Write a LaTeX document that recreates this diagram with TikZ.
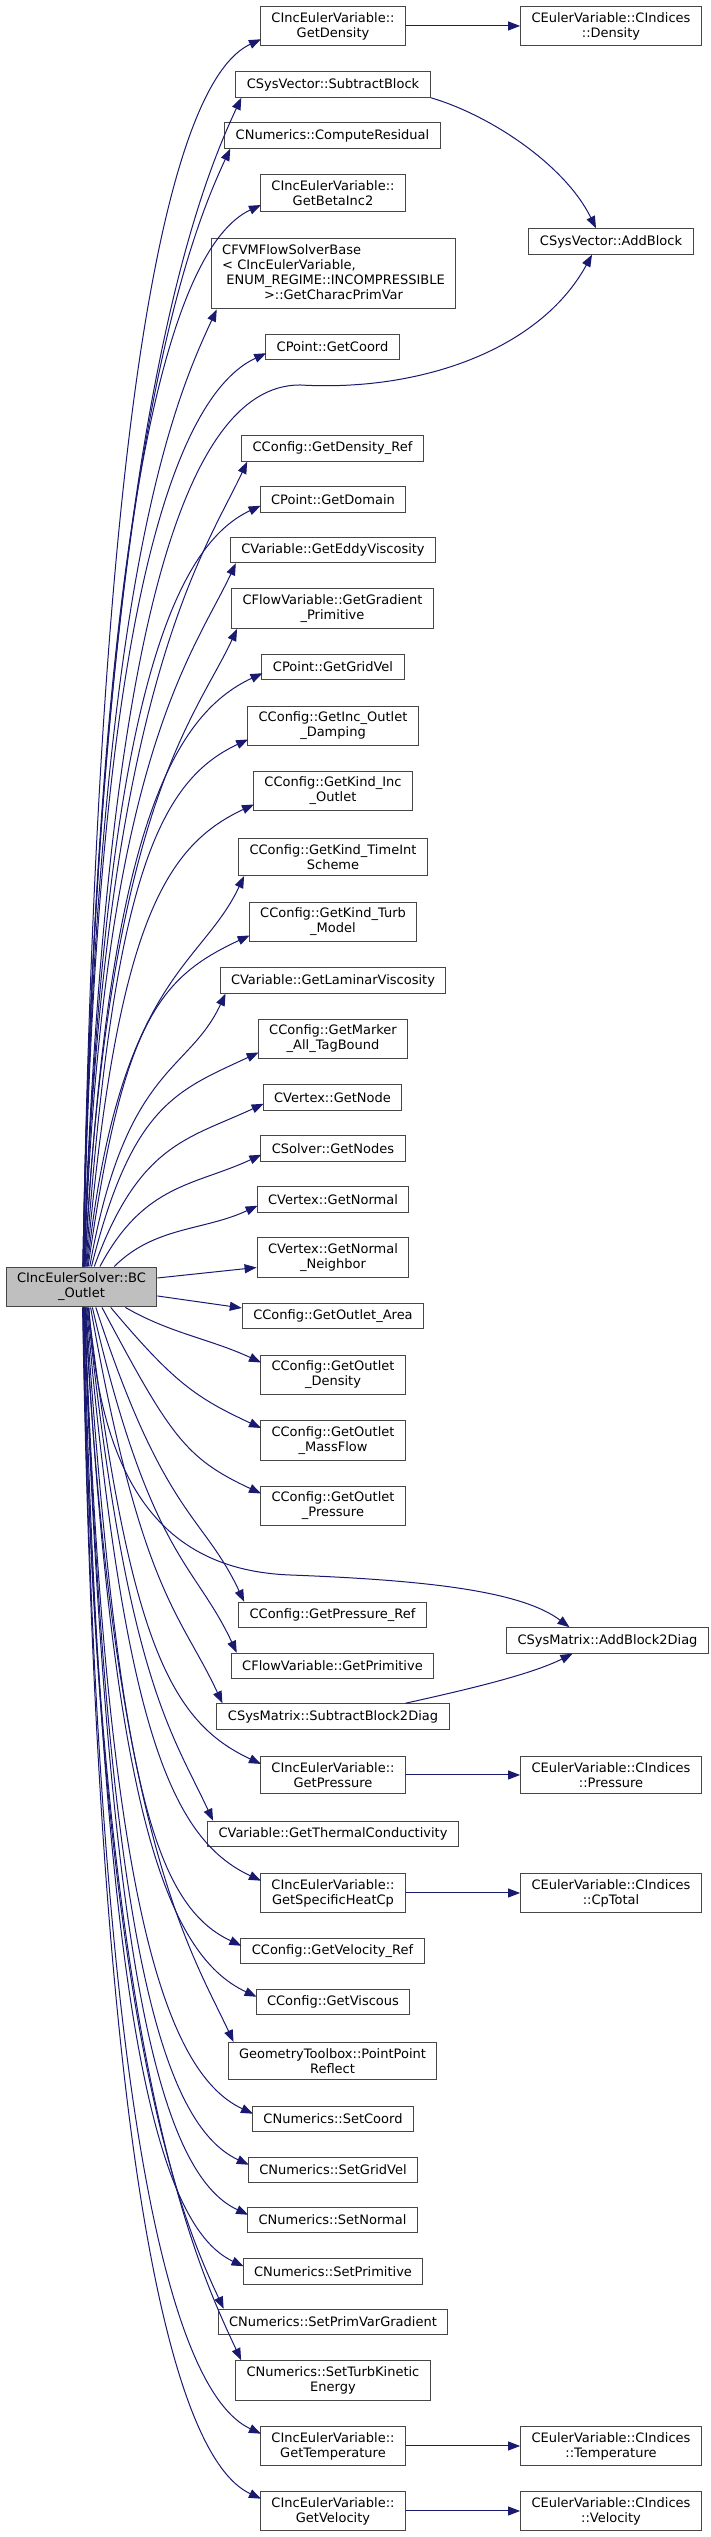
\documentclass[tikz,border=0pt]{standalone}
\usepackage{fontspec}
\setmainfont{DejaVu Sans}
\usetikzlibrary{arrows.meta, calc}
\definecolor{callblue}{RGB}{25, 25, 112}
\definecolor{rootgray}{RGB}{191, 191, 191}
\definecolor{boxline}{RGB}{70, 70, 70}

\begin{document}
\begin{tikzpicture}[x=1pt, y=1pt, >={Triangle[length=12pt, width=9pt]},
  fn/.style={draw=boxline, line width=1pt, fill=white, align=center,
    inner xsep=11pt, inner ysep=6pt, minimum height=25.5pt,
    font=\fontsize{13}{15}\selectfont},
  root/.style={fn, fill=rootgray},
  call/.style={->, draw=callblue, line width=1pt}]

  \useasboundingbox (0,0) rectangle (711,2537);

  % caller
  \node[root] (bc) at (81.5,1250) {CIncEulerSolver::BC\\\_Outlet};

  % callees above the caller
  \node[fn] (dens) at (333,2511) {CIncEulerVariable::\\GetDensity};
  \node[fn] (subblk) at (333,2452.5) {CSysVector::SubtractBlock};
  \node[fn] (compres) at (332.5,2401.5) {CNumerics::ComputeResidual};
  \node[fn] (beta) at (333,2344) {CIncEulerVariable::\\GetBetaInc2};
  \node[fn, inner ysep=5pt] (charac) at (333.5,2263) {\begin{tabular}{@{}l@{}}CFVMFlowSolverBase\\< CIncEulerVariable,\\\ ENUM\_REGIME::INCOMPRESSIBLE\\\multicolumn{1}{@{}c@{}}{>::GetCharacPrimVar}\end{tabular}};
  \node[fn] (coord) at (332.5,2190) {CPoint::GetCoord};
  \node[fn] (densref) at (332.5,2088.5) {CConfig::GetDensity\_Ref};
  \node[fn] (domain) at (333,2037.5) {CPoint::GetDomain};
  \node[fn] (eddy) at (333,1987) {CVariable::GetEddyViscosity};
  \node[fn] (gradprim) at (332.5,1928.5) {CFlowVariable::GetGradient\\\_Primitive};
  \node[fn] (gridvel) at (333,1870) {CPoint::GetGridVel};
  \node[fn] (damping) at (333,1811) {CConfig::GetInc\_Outlet\\\_Damping};
  \node[fn] (kindinc) at (333,1746) {CConfig::GetKind\_Inc\\\_Outlet};
  \node[fn] (timeint) at (333,1680) {CConfig::GetKind\_TimeInt\\Scheme};
  \node[fn] (turb) at (333,1615) {CConfig::GetKind\_Turb\\\_Model};
  \node[fn] (lamvisc) at (333,1556.5) {CVariable::GetLaminarViscosity};
  \node[fn] (marker) at (333,1498) {CConfig::GetMarker\\\_All\_TagBound};
  \node[fn] (getnode) at (332.5,1439.5) {CVertex::GetNode};
  \node[fn] (getnodes) at (333,1388.5) {CSolver::GetNodes};
  \node[fn] (normal) at (333,1337.5) {CVertex::GetNormal};
  \node[fn] (neighbor) at (333,1279.5) {CVertex::GetNormal\\\_Neighbor};

  % callees below the caller
  \node[fn] (area) at (333,1221) {CConfig::GetOutlet\_Area};
  \node[fn] (outdens) at (333,1162) {CConfig::GetOutlet\\\_Density};
  \node[fn] (massflow) at (333,1096.5) {CConfig::GetOutlet\\\_MassFlow};
  \node[fn] (outpres) at (333,1031) {CConfig::GetOutlet\\\_Pressure};
  \node[fn] (presref) at (332.5,922) {CConfig::GetPressure\_Ref};
  \node[fn] (getprim) at (332.5,871) {CFlowVariable::GetPrimitive};
  \node[fn] (subdiag) at (333,820.5) {CSysMatrix::SubtractBlock2Diag};
  \node[fn] (pres) at (333,762) {CIncEulerVariable::\\GetPressure};
  \node[fn] (thermal) at (333,703) {CVariable::GetThermalConductivity};
  \node[fn] (cp) at (333,644) {CIncEulerVariable::\\GetSpecificHeatCp};
  \node[fn] (velref) at (332.5,586) {CConfig::GetVelocity\_Ref};
  \node[fn] (viscous) at (333,535) {CConfig::GetViscous};
  \node[fn] (reflect) at (332.5,476) {GeometryToolbox::PointPoint\\Reflect};
  \node[fn] (setcoord) at (333,418) {CNumerics::SetCoord};
  \node[fn] (setgridvel) at (333,367) {CNumerics::SetGridVel};
  \node[fn] (setnormal) at (332.5,317) {CNumerics::SetNormal};
  \node[fn] (setprim) at (333,265.5) {CNumerics::SetPrimitive};
  \node[fn] (setgrad) at (333,215) {CNumerics::SetPrimVarGradient};
  \node[fn] (tke) at (333,156.5) {CNumerics::SetTurbKinetic\\Energy};
  \node[fn] (temp) at (333,91) {CIncEulerVariable::\\GetTemperature};
  \node[fn] (vel) at (333,26) {CIncEulerVariable::\\GetVelocity};

  % second level
  \node[fn] (idxdens) at (611,2511) {CEulerVariable::CIndices\\::Density};
  \node[fn] (addblk) at (611,2295.5) {CSysVector::AddBlock};
  \node[fn] (addiag) at (607.5,896.5) {CSysMatrix::AddBlock2Diag};
  \node[fn] (idxpres) at (611,762) {CEulerVariable::CIndices\\::Pressure};
  \node[fn] (idxcp) at (611,644) {CEulerVariable::CIndices\\::CpTotal};
  \node[fn] (idxtemp) at (611,91) {CEulerVariable::CIndices\\::Temperature};
  \node[fn] (idxvel) at (611,26) {CEulerVariable::CIndices\\::Velocity};

  % calls going up, into the left side
  \foreach \fn/\a/\o in {dens/86/89, beta/85/89, coord/84/89, domain/83/88,
      gridvel/80/87, damping/78/86, kindinc/76/85, turb/72/82, marker/64/76,
      getnode/58/70, getnodes/48/62, normal/32/45}
    \draw[call] let \p1 = (bc.\a), \p2 = ([shift={(1,7)}]\fn.south west),
        \n1 = {\y2-\y1}, \n2 = {\x2-\x1} in
      (\p1) .. controls +(\o:{0.7*\n1+0.1*\n2}) and +(205:{min(100,0.35*\n2+0.15*\n1)}) .. (\p2);

  % calls going up, into the bottom corner
  \foreach \fn/\a/\o in {subblk/86/89, compres/86/89, charac/85/89, densref/84/88,
      eddy/82/88, gradprim/81/87, timeint/74/84, lamvisc/68/80}
    \draw[call] let \p1 = (bc.\a), \p2 = ([shift={(6,0)}]\fn.south west),
        \n1 = {\y2-\y1}, \n2 = {\x2-\x1} in
      (\p1) .. controls +(\o:{0.7*\n1+0.1*\n2}) and +(245:{min(100,0.35*\n2+0.15*\n1)}) .. (\p2);

  % calls going down, into the left side
  \foreach \fn/\a/\o in {outdens/335/330, massflow/325/310, outpres/315/298,
      pres/288/277, cp/284/275, velref/282/274, viscous/281/273, setcoord/279/272,
      setgridvel/278/272, setnormal/277/272, setprim/276/271.5, temp/274/271, vel/273/271}
    \draw[call] let \p1 = (bc.\a), \p2 = ([shift={(1,-8)}]\fn.north west),
        \n1 = {\y1-\y2}, \n2 = {\x2-\x1} in
      (\p1) .. controls +(\o:{0.7*\n1+0.1*\n2}) and +(155:{min(100,0.35*\n2+0.15*\n1)}) .. (\p2);

  % calls going down, into the top corner
  \foreach \fn/\a/\o in {presref/305/288, getprim/298/283, subdiag/294/280,
      thermal/286/276, reflect/280/273, setgrad/275/271, tke/275/271}
    \draw[call] let \p1 = (bc.\a), \p2 = ([shift={(6,0)}]\fn.north west),
        \n1 = {\y1-\y2}, \n2 = {\x2-\x1} in
      (\p1) .. controls +(\o:{0.7*\n1+0.1*\n2}) and +(115:{min(100,0.35*\n2+0.15*\n1)}) .. (\p2);

  % short calls to the right
  \draw[call] ([yshift=9pt]bc.east) -- ([yshift=-10pt]neighbor.west);
  \draw[call] ([yshift=-9pt]bc.east) -- ([yshift=8pt]area.west);

  % long calls to the second column
  \draw[call] (bc.84) .. controls (105,1887) and (180,2152) .. (300,2152)
    .. controls (420,2145) and (540,2187) .. ([xshift=-19pt]addblk.south);
  \draw[call] (bc.290) .. controls (100,1057) and (160,967) .. (290,962)
    .. controls (420,957) and (520,947) .. ([xshift=-38pt]addiag.north);

  % second level calls
  \draw[call] (subblk.south east) .. controls (490,2422) and (565,2372) .. ([xshift=-15pt]addblk.north);
  \draw[call] ([xshift=-44pt]subdiag.north east) .. controls (465,847) and (530,862) .. ([xshift=-35pt]addiag.south);
  \draw[call] (dens) -- (idxdens);
  \draw[call] (pres) -- (idxpres);
  \draw[call] (cp) -- (idxcp);
  \draw[call] (temp) -- (idxtemp);
  \draw[call] (vel) -- (idxvel);

\end{tikzpicture}
\end{document}
